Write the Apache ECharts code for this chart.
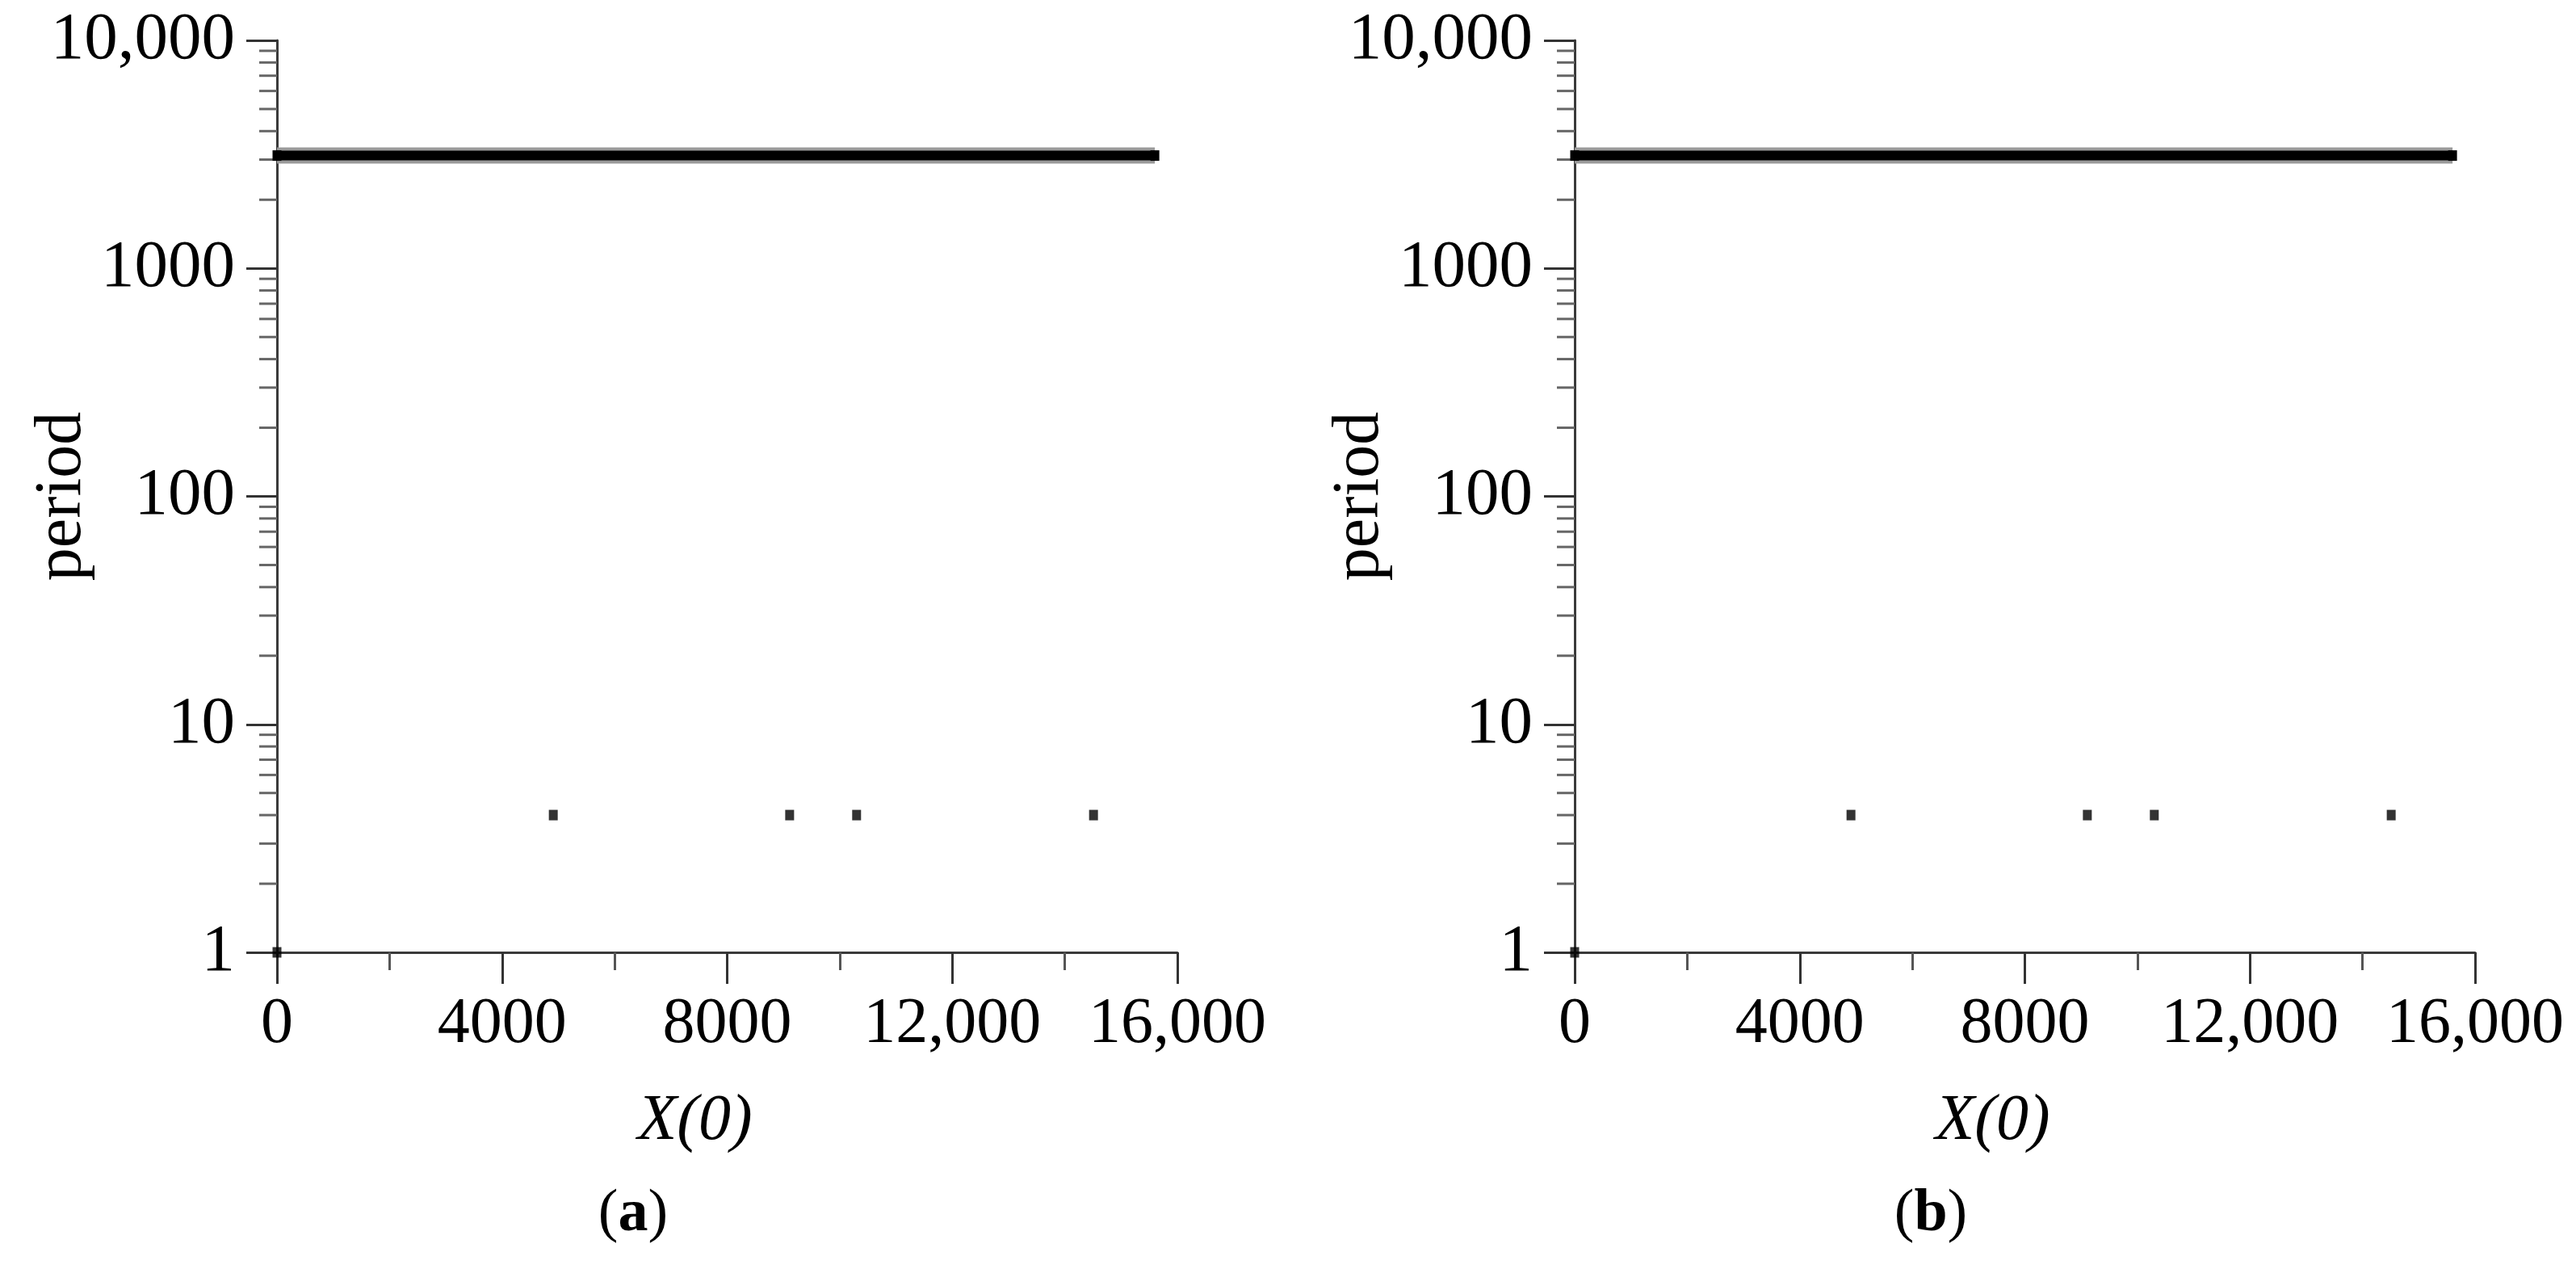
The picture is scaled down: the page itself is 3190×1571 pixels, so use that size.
<!DOCTYPE html>
<html><head><meta charset="utf-8">
<script src="https://cdn.jsdelivr.net/npm/echarts@6/dist/echarts.min.js"></script>
<style>html,body{margin:0;padding:0;background:#fff}#c{width:3190px;height:1571px}</style>
</head><body><div id="c"></div>
<script>
// ---- data ----
const panelNames = ['a', 'b'];
const xTickValues = [0, 4000, 8000, 12000, 16000];
const xTickLabels = ['0', '4000', '8000', '12,000', '16,000'];
const yTickValues = [1, 10, 100, 1000, 10000];
const yTickLabels = ['1', '10', '100', '1000', '10,000'];
const yMinorTickValues = [2,3,4,5,6,7,8,9, 20,30,40,50,60,70,80,90, 200,300,400,500,600,700,800,900, 2000,3000,4000,5000,6000,7000,8000,9000];
// dense run of initial values whose period is 3125 (drawn as a band)
const bandXA = [0, 15600];
const bandXB = [0, 15600];
const bandPeriod = 3125;
// isolated points
const pointXA = [0, 4910, 9110, 10300, 14510];
const pointPeriodA = [1, 4, 4, 4, 4];
const pointXB = [0, 4910, 9110, 10300, 14510];
const pointPeriodB = [1, 4, 4, 4, 4];

const FONT = '"Liberation Serif", "Times New Roman", serif';
const chart = echarts.init(document.getElementById('c'), null, {renderer: 'canvas'});

const gridLefts = [343, 1950];
const grids = gridLefts.map(l => ({left: l, top: 50, width: 1115, height: 1129, outerBoundsMode: 'none', containLabel: false}));

function xAxisFor(i) {
  return {
    gridIndex: i, type: 'value', min: 0, max: 16000, interval: 4000,
    name: 'X(0)', nameLocation: 'middle', nameGap: 170, nameMoveOverlap: false,
    nameTextStyle: {fontFamily: FONT, fontStyle: 'italic', fontSize: 80, color: '#000', padding: [0, 80, 0, 0]},
    axisLine: {show: true, onZero: false, lineStyle: {color: '#3a3a3a', width: 3}},
    axisTick: {show: true, length: 39, lineStyle: {color: '#333', width: 3}},
    minorTick: {show: true, splitNumber: 2, length: 22, lineStyle: {color: '#555', width: 3}},
    splitLine: {show: false},
    axisLabel: {
      margin: 50, fontFamily: FONT, fontSize: 80, color: '#000',
      formatter: v => { const k = xTickValues.indexOf(v); return k >= 0 ? xTickLabels[k] : ''; }
    }
  };
}
function yAxisFor(i) {
  return {
    gridIndex: i, type: 'log', logBase: 10, min: 1, max: 10000,
    name: 'period', nameLocation: 'middle', nameGap: 225, nameRotate: 90, nameMoveOverlap: false,
    nameTextStyle: {fontFamily: FONT, fontSize: 82, color: '#000'},
    axisLine: {show: true, lineStyle: {color: '#3a3a3a', width: 3}},
    axisTick: {show: true, length: 38, lineStyle: {color: '#333', width: 3}},
    minorTick: {show: false},
    splitLine: {show: false},
    axisLabel: {
      margin: 52, fontFamily: FONT, fontSize: 83, color: '#000',
      formatter: v => { const k = yTickValues.findIndex(t => Math.abs(t - v) < 1e-6 * t); return k >= 0 ? yTickLabels[k] : ''; }
    }
  };
}

function minorTickSeries(i) {
  return {
    type: 'custom', xAxisIndex: i, yAxisIndex: i, clip: false, silent: true,
    data: yMinorTickValues.map(v => [0, v]),
    renderItem: (params, api) => {
      const p = api.coord([api.value(0), api.value(1)]);
      return {type: 'line', shape: {x1: p[0] - 22, y1: p[1], x2: p[0], y2: p[1]},
              style: {stroke: '#666', lineWidth: 3}};
    }
  };
}

const bands = [bandXA, bandXB];
const pxs = [pointXA, pointXB];
const pys = [pointPeriodA, pointPeriodB];
const series = [];
[0, 1].forEach(i => {
  series.push(minorTickSeries(i));
  series.push({
    type: 'line', xAxisIndex: i, yAxisIndex: i, silent: true, symbol: 'none', clip: false,
    data: bands[i].map(x => [x, bandPeriod]),
    lineStyle: {color: '#9a9a9a', width: 20, cap: 'butt'}
  });
  series.push({
    type: 'line', xAxisIndex: i, yAxisIndex: i, silent: true, symbol: 'rect', symbolSize: [11, 13], clip: false,
    data: bands[i].map(x => [x, bandPeriod]),
    itemStyle: {color: '#000'},
    lineStyle: {color: '#000', width: 12, cap: 'butt'}
  });
  series.push({
    type: 'scatter', xAxisIndex: i, yAxisIndex: i, silent: true, symbol: 'rect', symbolSize: [11, 13], clip: false,
    data: pxs[i].map((x, k) => [x, pys[i][k]]),
    itemStyle: {color: '#000'}
  });
});

const titles = panelNames.map((n, i) => ({
  text: '{p|(}{b|' + n + '}{p|)}',
  left: [779, 2386][i], top: 1462, textAlign: 'center',
  textStyle: {fontWeight: 'normal', rich: {
    p: {fontFamily: FONT, fontSize: 74, fontWeight: 'normal', color: '#000'},
    b: {fontFamily: FONT, fontSize: 74, fontWeight: 'bold', color: '#000'}
  }}
}));

chart.setOption({
  animation: false,
  backgroundColor: '#fff',
  title: titles,
  grid: grids,
  xAxis: [xAxisFor(0), xAxisFor(1)],
  yAxis: [yAxisFor(0), yAxisFor(1)],
  series: series
});
</script></body></html>
